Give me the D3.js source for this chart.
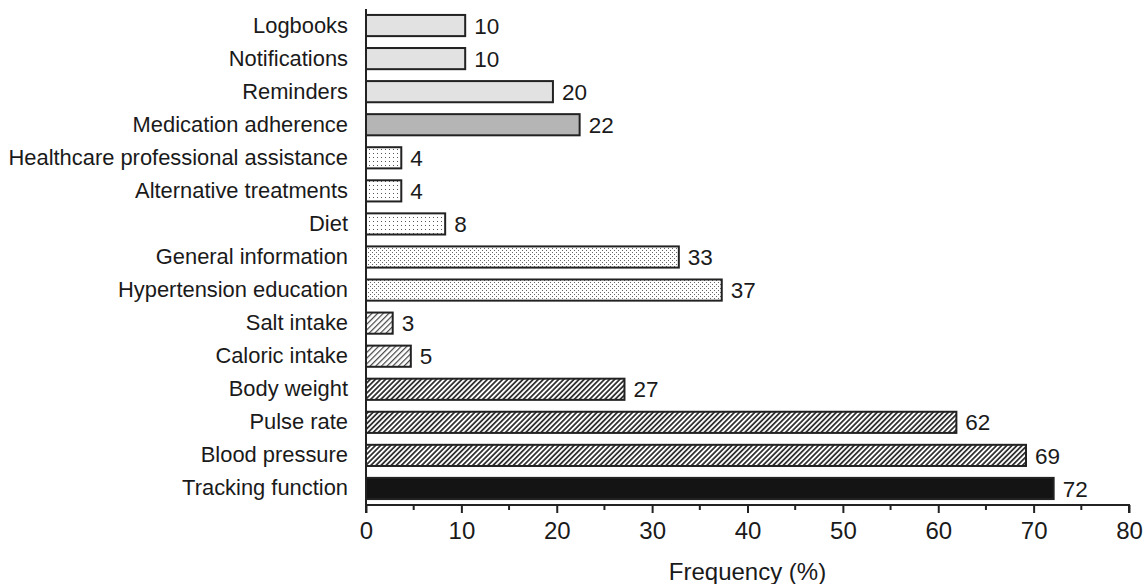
<!DOCTYPE html>
<html><head><meta charset="utf-8">
<script src="https://cdn.jsdelivr.net/npm/d3@7"></script>
<style>body{margin:0;background:#fff}svg{display:block}text{font-family:"Liberation Sans",Arial,sans-serif;fill:#1a1a1a}</style>
</head><body><svg id="c" width="1143" height="584"></svg>
<script>
const categories = ["Logbooks","Notifications","Reminders","Medication adherence","Healthcare professional assistance","Alternative treatments","Diet","General information","Hypertension education","Salt intake","Caloric intake","Body weight","Pulse rate","Blood pressure","Tracking function"];
const values = [10.4,10.4,19.6,22.4,3.7,3.7,8.3,32.8,37.3,2.8,4.7,27.1,61.9,69.2,72.1];
const fills = ["light","light","mid","medium","dots","dots","dots","dotsDense","dotsDense","hatch","hatch","hatchDark","hatchDark","hatchDark","black"];
const xTicks = [0,10,20,30,40,50,60,70,80];

const svg = d3.select("#c");
const defs = svg.append("defs");
function pat(id,w,h,draw){const p=defs.append("pattern").attr("id",id).attr("patternUnits","userSpaceOnUse").attr("width",w).attr("height",h);p.append("rect").attr("width",w).attr("height",h).attr("fill","#fff");draw(p);}
pat("dots",4,4,p=>p.append("rect").attr("x",1).attr("y",1).attr("width",1).attr("height",1).attr("fill","#555"));
pat("dotsDense",4,4,p=>{p.append("rect").attr("x",0).attr("y",0).attr("width",1).attr("height",1).attr("fill","#666");p.append("rect").attr("x",2).attr("y",2).attr("width",1).attr("height",1).attr("fill","#666");});
pat("hatch",4,4,p=>{p.attr("patternTransform","rotate(45)");p.append("rect").attr("x",0).attr("y",0).attr("width",1.2).attr("height",4).attr("fill","#444");});
pat("hatchDark",3.6,3.6,p=>{p.attr("patternTransform","rotate(45)");p.append("rect").attr("x",0).attr("y",0).attr("width",1.8).attr("height",3.6).attr("fill","#333");});
const fillMap = {light:"#e2e2e2",mid:"#e2e2e2",medium:"#b5b5b5",dots:"url(#dots)",dotsDense:"url(#dotsDense)",hatch:"url(#hatch)",hatchDark:"url(#hatchDark)",black:"#141414"};

const x = d3.scaleLinear().domain([0,80]).range([366,1129]);
const y = d3.scaleBand().domain(categories).range([9,505]).paddingInner(0.36).paddingOuter(0.18);

const data = categories.map((c,i)=>({c,v:values[i],f:fills[i]}));
svg.append("g").selectAll("rect").data(data).join("rect")
  .attr("x",x(0)).attr("y",d=>y(d.c)).attr("width",d=>x(d.v)-x(0)).attr("height",y.bandwidth())
  .attr("fill",d=>fillMap[d.f]).attr("stroke","#222").attr("stroke-width",2);

svg.append("g").selectAll("text").data(data).join("text")
  .attr("x",d=>x(d.v)+9).attr("y",d=>y(d.c)+y.bandwidth()/2).attr("dy","0.36em")
  .attr("font-size",22.5).text(d=>d3.format(".0f")(d.v));

// y axis
const ya = svg.append("g").attr("transform",`translate(${x(0)},0)`).call(d3.axisLeft(y).tickSize(0).tickPadding(18));
ya.select(".domain").attr("stroke","#222").attr("stroke-width",2).attr("d","M0,9V505");
ya.selectAll("text").attr("font-size",21.9).attr("font-family","Liberation Sans, Arial, sans-serif").attr("fill","#1a1a1a");

// x axis
const xa = svg.append("g").attr("transform","translate(0,505)").call(d3.axisBottom(x).tickValues(xTicks).tickSize(8).tickPadding(9).tickFormat(d3.format("d")));
xa.select(".domain").attr("stroke","#222").attr("stroke-width",2).attr("d",`M${x(0)},8V0H${x(80)}V8`);
xa.selectAll("line").attr("stroke","#222").attr("stroke-width",2);
xa.selectAll("text").attr("font-size",24).attr("font-family","Liberation Sans, Arial, sans-serif").attr("fill","#1a1a1a");
svg.append("g").selectAll("line").data(d3.range(5,80,10)).join("line")
  .attr("x1",d=>x(d)).attr("x2",d=>x(d)).attr("y1",505).attr("y2",510).attr("stroke","#222").attr("stroke-width",2);

svg.append("text").attr("x",(x(0)+x(80))/2).attr("y",580).attr("text-anchor","middle").attr("font-size",24).text("Frequency (%)");
</script></body></html>
